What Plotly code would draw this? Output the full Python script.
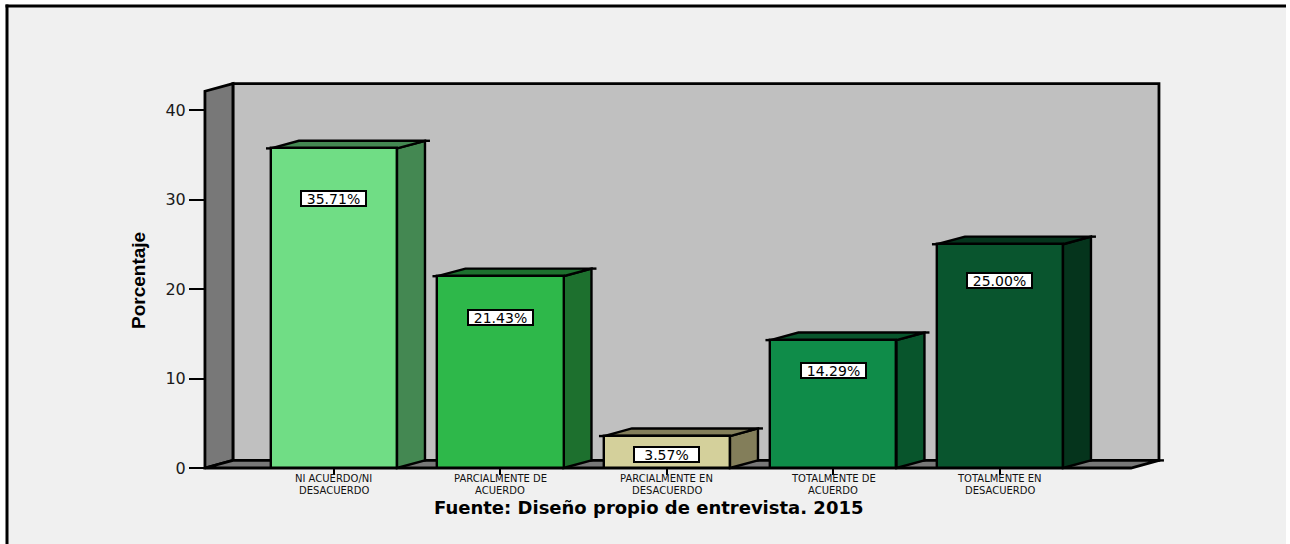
import plotly.graph_objects as go

# Survey answers and their share of respondents (%)
categories = [
    ["NI ACUERDO/NI", "DESACUERDO"],
    ["PARCIALMENTE DE", "ACUERDO"],
    ["PARCIALMENTE EN", "DESACUERDO"],
    ["TOTALMENTE DE", "ACUERDO"],
    ["TOTALMENTE EN", "DESACUERDO"],
]
percentages = [35.71, 21.43, 3.57, 14.29, 25.00]
y_ticks = [0, 10, 20, 30, 40]

# Styling
front_colors = ["#70DD85", "#2EB84A", "#D4D09B", "#0F8C49", "#09552E"]
side_colors = ["#448852", "#1D702E", "#837E5A", "#08552C", "#05341C"]
label_pos = [30.06, 16.87, 1.56, 10.84, 21.0]   # vertical placement of value boxes
BAR_W = 0.757          # bar width in category units
DX, DY = 0.168, 0.85   # depth offset of the 3D effect (x units, y units)
X_LEFT, X_RIGHT = -0.775, 4.787   # front edge of the floor
WALL_TOP = 42.1        # height of the back/side walls
TAIL = 0.03            # small overshoot of the top edges
EDGE = "black"
W, H = 1290, 544

X_RANGE = [-2.006, 5.742]
Y_RANGE = [-8.49, 52.29]


def poly(points):
    return "M " + " L ".join(f"{x},{y}" for x, y in points) + " Z"


shapes = []


def add_poly(points, fill, width=2.4, layer="below"):
    shapes.append(dict(type="path", path=poly(points), xref="x", yref="y",
                       fillcolor=fill, line=dict(color=EDGE, width=width), layer=layer))


def add_line(x0, y0, x1, y1, width=2.4):
    shapes.append(dict(type="line", xref="x", yref="y", x0=x0, y0=y0, x1=x1, y1=y1,
                       line=dict(color=EDGE, width=width), layer="below"))


def px(x):
    return x / W


def py(y):
    return 1 - y / H


# page frame
shapes.append(dict(type="rect", xref="paper", yref="paper", x0=px(7), x1=px(1286),
                   y0=py(560), y1=py(6), fillcolor="#F0F0F0", line=dict(width=0), layer="below"))
shapes.append(dict(type="line", xref="paper", yref="paper", x0=px(5.5), x1=px(1286),
                   y0=py(6), y1=py(6), line=dict(color=EDGE, width=3), layer="below"))
shapes.append(dict(type="line", xref="paper", yref="paper", x0=px(7), x1=px(7),
                   y0=py(4.5), y1=py(560), line=dict(color=EDGE, width=3), layer="below"))

# back wall
add_poly([(X_LEFT + DX, DY), (X_RIGHT + DX, DY), (X_RIGHT + DX, WALL_TOP + DY),
          (X_LEFT + DX, WALL_TOP + DY)], "#C0C0C0", width=2.8)
# left side wall
add_poly([(X_LEFT, 0), (X_LEFT + DX, DY), (X_LEFT + DX, WALL_TOP + DY), (X_LEFT, WALL_TOP)],
         "#787878", width=2.8)
# floor
add_poly([(X_LEFT, 0), (X_RIGHT, 0), (X_RIGHT + DX, DY), (X_LEFT + DX, DY)], "#787878", width=2.8)
add_line(X_RIGHT + DX, DY, X_RIGHT + DX + TAIL, DY)

# side and top faces of each bar
for i, v in enumerate(percentages):
    left, right = i - BAR_W / 2, i + BAR_W / 2
    add_poly([(right, 0), (right + DX, DY), (right + DX, v + DY), (right, v)], side_colors[i])
    add_poly([(left, v), (right, v), (right + DX, v + DY), (left + DX, v + DY)], side_colors[i])
    add_line(right + DX, v + DY, right + DX + TAIL, v + DY)
    add_line(left - TAIL, v, left, v)

fig = go.Figure()
fig.add_trace(go.Bar(
    x=list(range(len(percentages))), y=percentages, width=BAR_W,
    marker=dict(color=front_colors, line=dict(color=EDGE, width=2.4)),
    hoverinfo="skip", showlegend=False,
))

annotations = []
# value boxes
for i, v in enumerate(percentages):
    annotations.append(dict(
        x=i, y=label_pos[i], xref="x", yref="y", text=f"{v:.2f}%", showarrow=False,
        font=dict(family="DejaVu Sans", size=14, color="black"),
        bgcolor="white", bordercolor=EDGE, borderwidth=2, borderpad=0,
        width=63, height=13, align="center",
    ))

# category names, two tight lines under each bar
for i, lines in enumerate(categories):
    for j, line in enumerate(lines):
        annotations.append(dict(
            x=i, y=py(478.5 + 12 * j), xref="x", yref="paper", text=line, showarrow=False,
            font=dict(family="DejaVu Sans", size=10, color="#111111"),
            xanchor="center", yanchor="middle", borderpad=0,
        ))

# axis titles
annotations.append(dict(
    x=px(648), y=py(507), xref="paper", yref="paper",
    text="<b>Fuente: Diseño propio de entrevista. 2015</b>", showarrow=False,
    font=dict(family="DejaVu Sans", size=18, color="black"), xanchor="center", yanchor="middle",
))
annotations.append(dict(
    x=px(138), y=py(281), xref="paper", yref="paper", text="<b>Porcentaje</b>",
    showarrow=False, textangle=-90,
    font=dict(family="Liberation Sans", size=19, color="black"),
    xanchor="center", yanchor="middle",
))

fig.update_layout(
    width=W, height=H,
    margin=dict(l=0, r=0, t=0, b=0),
    paper_bgcolor="white", plot_bgcolor="rgba(0,0,0,0)",
    shapes=shapes, annotations=annotations,
    xaxis=dict(range=X_RANGE, domain=[0, 1], anchor="free", position=76 / H,
               tickvals=list(range(len(percentages))), showticklabels=False,
               ticks="outside", ticklen=6, tickwidth=2, tickcolor=EDGE,
               showgrid=False, zeroline=False, showline=False, fixedrange=True),
    yaxis=dict(range=Y_RANGE, domain=[0, 1], anchor="free", position=205 / W,
               tickvals=y_ticks, ticks="outside", ticklen=16, tickwidth=2, tickcolor=EDGE,
               tickfont=dict(family="DejaVu Sans", size=16, color="#1a1a1a"),
               showgrid=False, zeroline=False, showline=False, fixedrange=True),
    bargap=0,
)

fig.write_html("out.html", config={"displayModeBar": False})
